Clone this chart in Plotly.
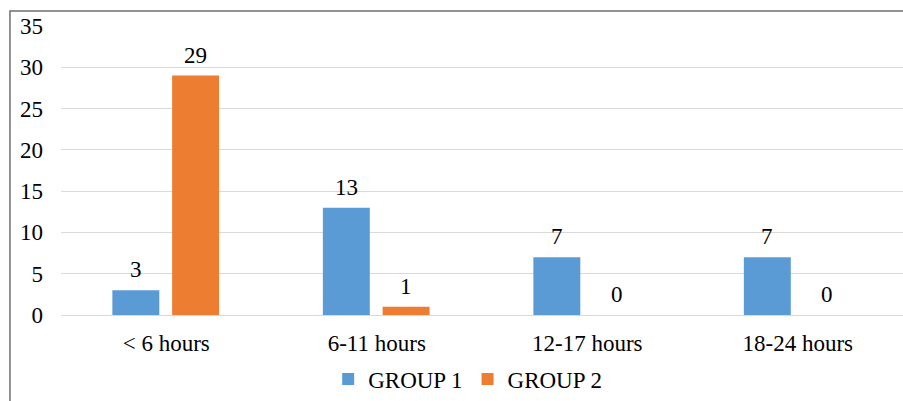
import plotly.graph_objects as go

# Time-window categories and counts per group
categories = ["< 6 hours", "6-11 hours", "12-17 hours", "18-24 hours"]
group1 = [3, 13, 7, 7]
group2 = [29, 1, 0, 0]

positions = list(range(len(categories)))
FONT = "Times New Roman"
BLUE = "#5B9BD5"
ORANGE = "#ED7D31"
BAR_W = 0.223

fig = go.Figure()
fig.add_trace(go.Bar(x=positions, y=group1, name="GROUP 1", marker_color=BLUE,
                     width=BAR_W, offset=-0.256, marker_line_width=0))
fig.add_trace(go.Bar(x=positions, y=group2, name="GROUP 2", marker_color=ORANGE,
                     width=BAR_W, offset=0.028, marker_line_width=0))

# value labels above each bar
for vals, off in ((group1, -0.256), (group2, 0.028)):
    for p, v in zip(positions, vals):
        fig.add_annotation(x=p + off + BAR_W / 2, y=v, xref="x", yref="y",
                           text=str(v), showarrow=False, yanchor="bottom",
                           yshift=6, font=dict(family=FONT, size=23, color="#000"))

fig.update_layout(
    width=903, height=401,
    margin=dict(l=61, r=0, t=26, b=86),
    paper_bgcolor="white", plot_bgcolor="white",
    barmode="overlay",
    font=dict(family=FONT, size=23, color="#000"),
    showlegend=True,
    legend=dict(orientation="h", x=0.483, xanchor="center", y=-0.222, yanchor="middle",
                font=dict(family=FONT, size=23), itemwidth=30, traceorder="normal"),
    xaxis=dict(range=[-0.5, 3.5], tickvals=positions, ticktext=categories,
               tickfont=dict(family=FONT, size=23),
               showgrid=False, zeroline=False, showline=False, ticks="",
               ticklabelstandoff=12),
    yaxis=dict(range=[0, 35], dtick=5, showgrid=True, gridcolor="#d9d9d9", gridwidth=1.3,
               tickfont=dict(family=FONT, size=23),
               zeroline=True, zerolinecolor="#d9d9d9", zerolinewidth=1.3,
               showline=False, ticks="", ticklabelstandoff=17),
    shapes=[dict(type="path", xref="paper", yref="paper",
                 path="M -0.0606,-0.5 L -0.0606,1.0519 L 1.2,1.0519",
                 line=dict(color="#6f6f6f", width=1.5))],
)

fig.write_html("out.html")
